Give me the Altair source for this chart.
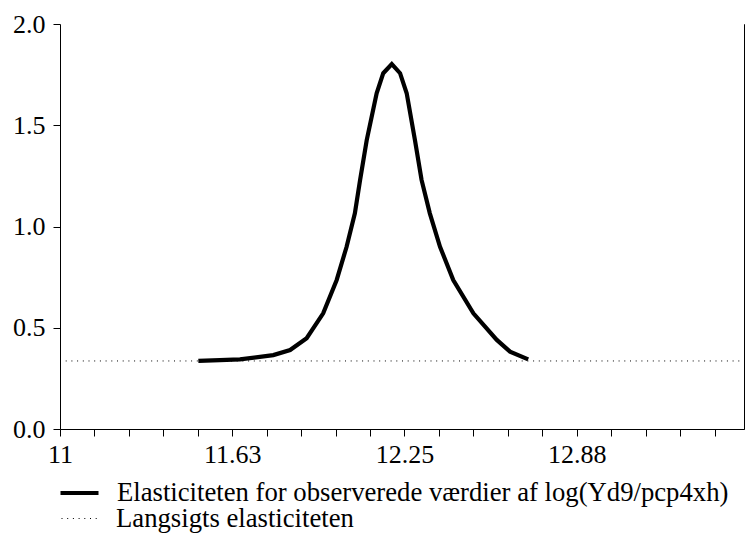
import altair as alt
import pandas as pd

x_obs = [11.502, 11.58, 11.653, 11.774, 11.835, 11.895, 11.955, 12.004, 12.040,
         12.070, 12.089, 12.113, 12.149, 12.173, 12.204, 12.234, 12.258, 12.288,
         12.312, 12.342, 12.379, 12.427, 12.500, 12.585, 12.633, 12.699]
y_obs = [0.336, 0.340, 0.344, 0.365, 0.390, 0.448, 0.571, 0.736, 0.900,
         1.065, 1.230, 1.427, 1.658, 1.757, 1.802, 1.757, 1.658, 1.427,
         1.230, 1.065, 0.900, 0.736, 0.571, 0.440, 0.382, 0.344]

# Long-run elasticity (constant)
x_long = [11.0, 13.48]
y_long = [0.336, 0.336]

name_obs = "Elasticiteten for observerede værdier af log(Yd9/pcp4xh)"
name_long = "Langsigts elasticiteten"

x_ticks = [11 + 0.125 * i for i in range(20)]
y_ticks = [0.0, 0.5, 1.0, 1.5, 2.0]

df_obs = pd.DataFrame({"x": x_obs, "y": y_obs, "serie": name_obs})
df_long = pd.DataFrame({"x": x_long, "y": y_long, "serie2": name_long})

FONT = "Liberation Serif, Times New Roman, serif"
FS_AX = 26
FS_LEG = 26.7

x_scale = alt.Scale(domain=[11, 13.482], nice=False, zero=False)
y_scale = alt.Scale(domain=[0, 2], nice=False, zero=True)

x_axis = alt.Axis(values=x_ticks, title=None, grid=False,
                  labelExpr="abs((datum.value-11)/0.625 - round((datum.value-11)/0.625)) < 0.01 && datum.value < 13.4 ? format(datum.value, '.2~f') : ''",
                  labelOverlap=False, labelFlush=False, labelPadding=5,
                  tickSize=7, domainColor="black", tickColor="black",
                  labelColor="black", labelFont=FONT, labelFontSize=FS_AX)
y_axis = alt.Axis(values=y_ticks, format=".1f", title=None, grid=False,
                  tickSize=7, labelPadding=8, domainColor="black",
                  tickColor="black", labelColor="black",
                  labelFont=FONT, labelFontSize=FS_AX)

legend_common = dict(orient="none", title=None,
                     symbolType="stroke", symbolSize=1444, symbolStrokeColor="black",
                     labelFont=FONT, labelFontSize=FS_LEG, labelColor="black",
                     labelOffset=16, labelLimit=0)

dotted = alt.Chart(df_long).mark_line(color="black", strokeWidth=1).encode(
    x=alt.X("x:Q", scale=x_scale, axis=x_axis),
    y=alt.Y("y:Q", scale=y_scale, axis=None),
    strokeDash=alt.StrokeDash("serie2:N",
                              scale=alt.Scale(domain=[name_long], range=[[1, 4.7]]),
                              legend=alt.Legend(legendX=1, legendY=475, symbolStrokeWidth=1,
                                                **legend_common)),
)

thick = alt.Chart(df_obs).mark_line(strokeWidth=4.2).encode(
    x=alt.X("x:Q", scale=x_scale, axis=x_axis),
    y=alt.Y("y:Q", scale=y_scale, axis=y_axis),
    color=alt.Color("serie:N", scale=alt.Scale(domain=[name_obs], range=["black"]),
                    legend=alt.Legend(legendX=-2, legendY=447.5, symbolStrokeWidth=4.2,
                                      **legend_common)),
)

# invisible layer that only carries the mirrored right-hand y axis
right = alt.Chart(df_obs).mark_rule(opacity=0).encode(
    y=alt.Y("y:Q", scale=y_scale,
            axis=alt.Axis(orient="right", values=y_ticks, labels=False, title=None,
                          grid=False, tickSize=7, domainColor="black", tickColor="black")),
)

chart = alt.layer(dotted, thick, right).resolve_axis(y="independent").properties(
    width=684, height=405,
    autosize=alt.AutoSizeParams(type="none"),
    padding={"left": 52, "top": 16, "right": 1, "bottom": 105},
).configure_view(stroke=None).configure_axis(domainWidth=1, tickWidth=1)

chart.save("out.html", embed_options={"renderer": "svg", "actions": False})
